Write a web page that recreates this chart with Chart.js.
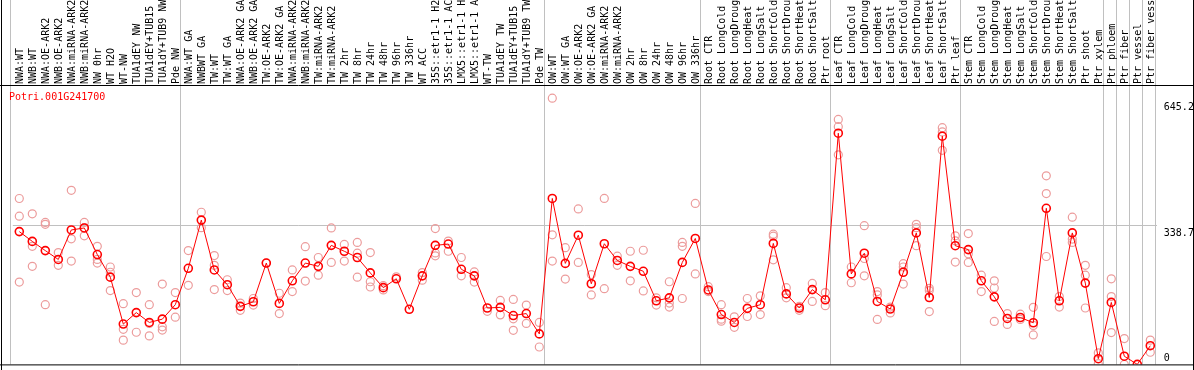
<!DOCTYPE html>
<html>
<head>
<meta charset="utf-8">
<title>Potri.001G241700</title>
<script src="https://cdn.jsdelivr.net/npm/chart.js@4/dist/chart.umd.min.js"></script>
<style>
  html, body { margin: 0; padding: 0; background: #fff; }
  #wrap { position: relative; width: 1194px; height: 370px; }
</style>
</head>
<body>
<div id="wrap"><canvas id="expr-chart"></canvas></div>
<script>
/* ===============================================
   Expression profile - Potri.001G241700
   Mean per sample (line) + replicate values (rings)
   =============================================== */

// ── Samples (x categories, in plot order) ──
var samples = [
  'NWA:WT', 'NWB:WT', 'NWA:OE-ARK2', 'NWB:OE-ARK2', 'NWA:miRNA-ARK2', 'NWB:miRNA-ARK2', 'NW 0hr', 'WT H2O',
  'WT-NW', 'TUA1dEY NW', 'TUA1dEY+TUB15 NW', 'TUA1dY+TUB9 NW', 'Pde NW',
  'NWA:WT GA', 'NWBWT GA', 'TW:WT', 'TW:WT GA', 'NWA:OE-ARK2 GA', 'NWB:OE-ARK2 GA', 'TW:OE-ARK2', 'TW:OE-ARK2 GA',
  'NWA:miRNA-ARK2', 'NWB:miRNA-ARK2', 'TW:miRNA-ARK2', 'TW:miRNA-ARK2', 'TW 2hr', 'TW 8hr', 'TW 24hr', 'TW 48hr',
  'TW 96hr', 'TW 336hr', 'WT ACC', '35S::etr1-1 H2O', '35S::etr1-1 ACC', 'LMX5::etr1-1 H2O', 'LMX5::etr1-1 ACC',
  'WT-TW', 'TUA1dEY TW', 'TUA1dEY+TUB15 TW', 'TUA1dY+TUB9 TW', 'Pde TW',
  'OW:WT', 'OW:WT GA', 'OW:OE-ARK2', 'OW:OE-ARK2 GA', 'OW:miRNA-ARK2', 'OW:miRNA-ARK2', 'OW 2hr', 'OW 8hr',
  'OW 24hr', 'OW 48hr', 'OW 96hr', 'OW 336hr',
  'Root CTR', 'Root LongCold', 'Root LongDrought', 'Root LongHeat', 'Root LongSalt', 'Root ShortCold',
  'Root ShortDrought', 'Root ShortHeat', 'Root ShortSalt', 'Ptr root',
  'Leaf CTR', 'Leaf LongCold', 'Leaf LongDrought', 'Leaf LongHeat', 'Leaf LongSalt', 'Leaf ShortCold',
  'Leaf ShortDrought', 'Leaf ShortHeat', 'Leaf ShortSalt', 'Ptr leaf',
  'Stem CTR', 'Stem LongCold', 'Stem LongDrought', 'Stem LongHeat', 'Stem LongSalt', 'Stem ShortCold',
  'Stem ShortDrought', 'Stem ShortHeat', 'Stem ShortSalt', 'Ptr shoot', 'Ptr xylem',
  'Ptr phloem', 'Ptr fiber', 'Ptr vessel', 'Ptr fiber vessel'
];

// ── Mean expression per sample ──
var meanExpr = [
  325, 301, 278.5, 256.8, 329, 333.9, 268.9, 213.5, 98.7, 126.8, 102.7, 110.7, 146.1,
  235.2, 353.1, 231.1, 195, 142.1, 153.3, 248, 149.3, 204.6, 248, 240, 291.3, 276.9, 261.6, 223.9, 187.8,
  209.5, 134.8, 216.7, 291.3, 294.5, 232.7, 216.7, 138, 139.6, 119.6, 124.4, 74.6,
  406.1, 247.2, 316.2, 197.4, 295.3, 254.4, 240, 227.9, 155.7, 162.9, 249.6, 308.2,
  182.2, 122, 102.7, 137.2, 146.1, 296.1, 172.5, 138, 183, 158.1,
  565.8, 221.5, 272.1, 154.1, 135.6, 225.5, 321.8, 163.7, 558.5, 290.5,
  280.9, 204.6, 165.3, 112.4, 114.8, 101.9, 382, 155.7, 321.8, 199, 14,
  151.7, 20, 0, 45.7
];

// ── Replicate values (null = no visible replicate) ──
var rep1 = [
  406, 368.4, 347.5, 273.7, 426.1, 347.5, 288.9, 238.4, 148.5, 175.8, 146.1, 196.6, 175.8,
  278.5, 372.4, 266.4, 207.1, 150.1, 161.3, 248, 174.1, 231.1, 288.1, 261.6, 333.9, 293.7, 298.5, 273.7, 192.6,
  214.3, null, 224.7, 332.3, 301.7, 261.6, 226.3, 130, 156.5, 158.9, 145.3, 102.7,
  651.6, 285.7, 380.4, 219.9, 406.1, 264.8, 276.9, 279.3, 162.9, 202.2, 298.5, 394,
  190.2, 146.1, 116.4, 161.3, 167.7, 318.6, 187.8, 142.1, 198.2, 175.8,
  599.5, 238.4, 339.5, 178.2, 140.4, 246.4, 342.7, 186.2, 579.4, 314.6,
  320.2, 218.3, 204.6, 124.4, 122.8, 139.6, 461.4, 166.1, 360.3, 242.4, 28.2,
  209.5, 63.3, null, 59.4
];
var rep2 = [
  362.7, 288.9, 342.7, 242.4, 307.4, 334.7, 256.8, 225.5, 85.9, 78.7, 100.3, 92, 115.6,
  193.4, 334.7, 242.4, 180.6, 132.4, 145.3, null, 124.4, 178.2, 203.8, 218.3, 249.6, 252.8, 272.1, 202.2, 182.2,
  null, null, 206.2, 272.9, 276.9, 216.7, 201.4, null, 121.2, 111.6, 100.3, 42.6,
  317, 208.7, 249.6, 170.1, 185.4, 242.4, 204.6, 179.8, 145.3, 150.1, 288.9, 221.5,
  178.2, 110.7, 90.7, 117.2, 122, 313.8, 162.9, 132.4, 154.1, 143.7,
  581.8, 199.8, 259.2, 170.1, 126, 238.4, 334.7, 180.6, 569, 302.5,
  270.5, 178.2, 187, 97.9, 110, 95.5, 418.1, 140.4, 306.6, 218.3, 1.7,
  166.1, 0, null, 29.7
];
var rep3 = [
  201.4, 240, 146.1, null, 252.8, 314.6, 248, 180.6, 59.4, null, 69.8, 84, null,
  null, null, 183, null, null, null, null, null, null, null, null, null, null, 213.5, 189.4, null,
  null, null, null, 265.6, null, null, null, null, null, 83.5, null, null,
  252.8, null, null, null, null, null, null, null, null, 140.4, 161.3, null,
  null, 105.9, null, null, null, 256, null, null, null, null,
  512.8, null, 216.7, 110, null, 196.6, 290.5, 129.2, 524, 250.4,
  249.6, null, 105.1, null, null, 72.2, 264, null, 298.5, 138, null,
  77.9, null, null, null
];

// ── Y axis ticks and group separators (category positions) ──
var yTicks = [0, 338.7, 645.2];
var separators = [-0.69, 12.38, 40.38, 52.38, 62.38, 72.38, 83.38, 84.38, 85.38, 86.38, 87.38];

var geneId = 'Potri.001G241700';

// ── Defaults ──
Chart.defaults.font.family = "'DejaVu Sans Mono', monospace";
Chart.defaults.font.size = 10;
Chart.defaults.color = '#000';

var RED = '#ff0000';
var REP = '#ec9c9c';
var FONT = "10px 'DejaVu Sans Mono', monospace";

// ── Separators, frame, axis labels, gene name ──
var framePlugin = {
  id: 'frame',
  beforeDraw: function(chart) {
    var ctx = chart.ctx;
    var xs = chart.scales.x;
    var bottom = chart.chartArea.bottom;
    ctx.save();
    ctx.fillStyle = '#fff';
    ctx.fillRect(0, 0, chart.width, chart.height);
    ctx.strokeStyle = '#c0c0c0';
    ctx.lineWidth = 1;
    for (var i = 0; i < separators.length; i++) {
      var px = Math.round(xs.getPixelForValue(separators[i])) + 0.5;
      ctx.beginPath();
      ctx.moveTo(px, 0);
      ctx.lineTo(px, bottom);
      ctx.stroke();
    }
    ctx.restore();
  },
  afterDraw: function(chart) {
    var ctx = chart.ctx;
    var ys = chart.scales.y;
    var area = chart.chartArea;
    ctx.save();
    ctx.strokeStyle = '#000';
    ctx.lineWidth = 1;
    ctx.beginPath();
    ctx.moveTo(1.5, 0); ctx.lineTo(1.5, chart.height);
    ctx.moveTo(chart.width - 0.5, 0); ctx.lineTo(chart.width - 0.5, chart.height);
    ctx.moveTo(0, area.top - 0.5); ctx.lineTo(chart.width, area.top - 0.5);
    ctx.moveTo(0, area.bottom + 0.5); ctx.lineTo(chart.width, area.bottom + 0.5);
    ctx.stroke();

    // right-hand value labels, text top at the value, kept inside the frame
    ctx.font = FONT;
    ctx.fillStyle = '#000';
    ctx.textAlign = 'left';
    ctx.textBaseline = 'top';
    for (var i = 0; i < yTicks.length; i++) {
      var py = Math.min(ys.getPixelForValue(yTicks[i]) + 2, area.bottom - 11);
      ctx.fillText(String(yTicks[i]), area.right + 7, py);
    }

    ctx.fillStyle = RED;
    ctx.textBaseline = 'middle';
    ctx.fillText(geneId, 9, area.top + 11);
    ctx.restore();
  }
};

function repSet(name, values) {
  return {
    label: name,
    data: values,
    showLine: false,
    pointRadius: 4,
    pointBorderWidth: 1.2,
    pointBorderColor: REP,
    pointBackgroundColor: 'rgba(0,0,0,0)'
  };
}

var ctx = document.getElementById('expr-chart').getContext('2d');
var chart = new Chart(ctx, {
  type: 'line',
  data: {
    labels: samples,
    datasets: [
      {
        label: 'mean',
        data: meanExpr,
        borderColor: RED,
        borderWidth: 1,
        tension: 0,
        fill: false,
        pointRadius: 4,
        pointBorderWidth: 1.6,
        pointBorderColor: RED,
        pointBackgroundColor: 'rgba(0,0,0,0)'
      },
      repSet('rep1', rep1),
      repSet('rep2', rep2),
      repSet('rep3', rep3)
    ]
  },
  options: {
    responsive: true,
    maintainAspectRatio: false,
    animation: false,
    events: [],
    layout: { padding: { left: 12.8, right: 0, top: 0, bottom: 1 } },
    plugins: {
      legend: { display: false },
      tooltip: { enabled: false }
    },
    scales: {
      x: {
        position: 'top',
        offset: true,
        grid: { display: false, drawTicks: false },
        border: { display: false },
        ticks: { autoSkip: false, minRotation: 90, maxRotation: 90, padding: 2, labelOffset: 13, color: '#000' },
        afterFit: function(s) { s.height = 86; }
      },
      y: {
        position: 'right',
        min: 0,
        max: 681.3,
        border: { display: false },
        grid: {
          drawTicks: false,
          color: function(c) { return c.tick && c.tick.value === 338.7 ? '#c0c0c0' : 'rgba(0,0,0,0)'; }
        },
        ticks: { display: false },
        afterBuildTicks: function(s) { s.ticks = yTicks.map(function(v) { return { value: v }; }); },
        afterFit: function(s) { s.width = 37.2; }
      }
    }
  },
  plugins: [framePlugin]
});
</script>
</body>
</html>
